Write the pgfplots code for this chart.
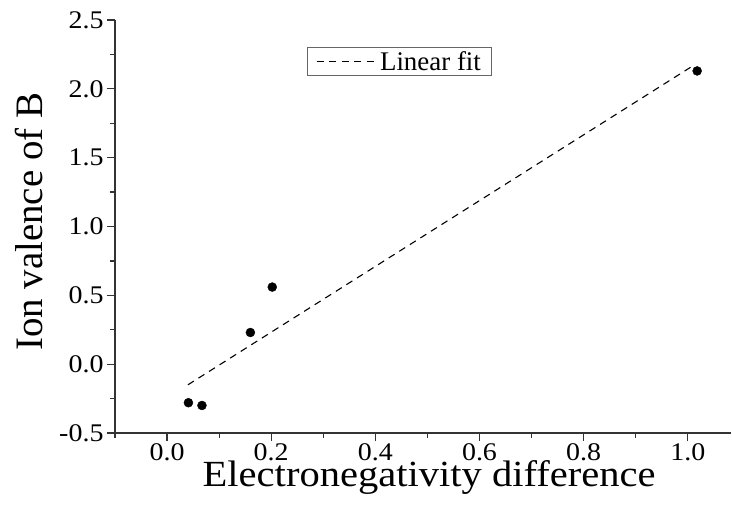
\documentclass[border=0pt]{standalone}
\usepackage{pgfplots}
\pgfplotsset{compat=1.18}
\usepackage{fontspec}
\setmainfont[FakeStretch=1.1]{Liberation Serif}
\newfontfamily\plainserif{Liberation Serif}
\pgfplotsset{fitlegend/.style={legend image code/.code={\draw[##1] (0bp,0bp) -- (61bp,0bp);}}}
\begin{document}
\begin{tikzpicture}
\useasboundingbox (0,0) rectangle (732bp,512bp);
\begin{axis}[
  at={(115bp,79bp)}, anchor=south west,
  scale only axis, width=616bp, height=413bp,
  xmin=-0.1, xmax=1.083, ymin=-0.5, ymax=2.5,
  axis x line*=bottom, axis y line*=left,
  axis line style={line width=1.2bp, black!80, -},
  tick align=outside,
  xtick={0,0.2,0.4,0.6,0.8,1.0},
  xticklabels={0.0,0.2,0.4,0.6,0.8,1.0},
  ytick={-0.5,0,0.5,1.0,1.5,2.0,2.5},
  yticklabels={-0.5,0.0,0.5,1.0,1.5,2.0,2.5},
  minor xtick={-0.1,0.1,0.3,0.5,0.7,0.9},
  minor ytick={-0.25,0.25,0.75,1.25,1.75,2.25},
  major tick length=8bp, minor tick length=4.5bp,
  every tick/.style={line width=1.2bp, black!80},
  tick label style={font=\fontsize{25.5}{28}\selectfont},
  xticklabel style={yshift=1bp},
  xlabel={Electronegativity difference},
  ylabel={\plainserif Ion valence of B},
  xlabel style={font=\fontsize{37}{37}\selectfont, at={(axis description cs:0.51,-0.13)}, anchor=base},
  ylabel style={font=\fontsize{39}{39}\selectfont, at={(axis description cs:-0.14,0.511)}, anchor=center},
  legend style={at={(0.312,0.935)}, anchor=north west, draw=black!60, line width=0.6bp,
    font=\plainserif\fontsize{27}{30}\selectfont, inner xsep=8.5bp, inner ysep=2bp},
  legend cell align=left,
  clip=false,
]
\addplot[only marks, mark=*, mark size=4.5bp, black, forget plot] coordinates {
  (0.041,-0.28) (0.067,-0.30) (0.160,0.23) (0.202,0.56) (1.018,2.13)
};
\addplot[black, dash pattern=on 7bp off 5.5bp, line width=1.1bp, fitlegend] coordinates {
  (0.040,-0.15) (1.011,2.17)
};
\addlegendentry{Linear fit}
\end{axis}
\end{tikzpicture}
\end{document}
